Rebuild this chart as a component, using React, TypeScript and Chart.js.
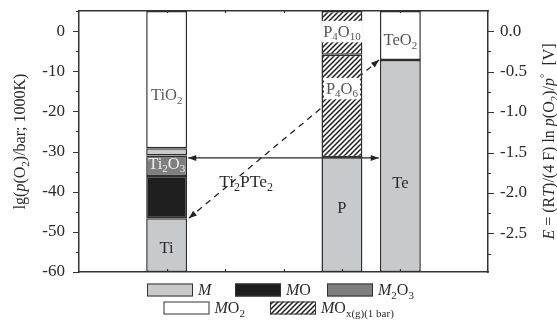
import React, { useEffect, useRef } from 'react';
import { Chart, registerables } from 'chart.js';
Chart.register(...registerables);

const FONT = '"Liberation Serif", "Times New Roman", serif';

// ---- data ----
const elements = ['Ti', 'P', 'Te'];
const elementX = [1, 4, 5];
const phaseM = [[-60, -46.6], [-60, -31.4], [-60, -7.2]];
const phaseMO = [[-46.6, -36.1], null, null];
const phaseM2O3 = [[-36.1, -31.0], null, null];
const phaseInter = [[-31.0, -29.2], null, null];
const phaseMO2 = [[-29.2, 5], null, [-7.2, 5]];
const phaseGasLow = [null, [-31.4, -5.9], null];
const phaseGasHigh = [null, [-5.9, 5], null];

const yMin = -60;
const yMax = 5;
const leftTicks = [-60, -50, -40, -30, -20, -10, 0];
const leftMinor = [5, -5, -15, -25, -35, -45, -55];
const rightTicks = [-2.5, -2.0, -1.5, -1.0, -0.5, 0];
const rightMinor = [-0.25, -0.75, -1.25, -1.75, -2.25, -2.75];
const xTicks = [1, 2, 3, 4, 5];
const voltPerLg = (8.314 * 1000) / (4 * 96485) * Math.LN10;

const segLabels = ['TiO_{2}', 'Ti_{2}O_{3}', 'Ti', 'P_{4}O_{10}', 'P_{4}O_{6}', 'P', 'TeO_{2}', 'Te'];
const segLabelX = [1, 1, 1, 4, 4, 4, 5, 5];
const segLabelY = [-15.9, -32.9, -54, 0, -14.2, -44, -2.2, -37.6];

const compoundLabel = 'Ti_{2}PTe_{2}';
const compoundX = 2.36;
const compoundY = -37.5;

const solidArrowX = [1.37, 4.63];
const solidArrowY = [-31.6, -31.6];
const dashedArrowX = [1.38, 4.635];
const dashedArrowY = [-46.6, -7.2];

const legendLabels = ['*M*', '*M*O', '*M*_{2}O_{3}', '*M*O_{2}', '*M*O_{x(g)(1 bar)}'];

// ---- styles ----
const C_M = '#c8c9cb';
const C_MO = '#1e1e1e';
const C_M2O3 = '#7f7f7f';
const C_MO2 = '#ffffff';
const EDGE = '#2e2e2e';
const segLabelColors = ['#5a5a5a', '#eeeeee', '#2a2a2a', '#555555', '#555555', '#2a2a2a', '#555555', '#2a2a2a'];
const TICK_SIZE = 17;

type Run = { t: string; it: boolean; sub: boolean; sup: boolean };
function parseRich(s: string): Run[] {
  const runs: Run[] = [];
  let it = false;
  let i = 0;
  let buf = '';
  const push = (t: string, sub: boolean, sup: boolean) => {
    if (t) runs.push({ t, it, sub, sup });
  };
  while (i < s.length) {
    const c = s[i];
    if (c === '*') {
      push(buf, false, false);
      buf = '';
      it = !it;
      i++;
    } else if ((c === '_' || c === '^') && s[i + 1] === '{') {
      push(buf, false, false);
      buf = '';
      const end = s.indexOf('}', i + 2);
      push(s.slice(i + 2, end), c === '_', c === '^');
      i = end + 1;
    } else {
      buf += c;
      i++;
    }
  }
  push(buf, false, false);
  return runs;
}
function runFont(r: Run, size: number) {
  const s = r.sub || r.sup ? Math.round(size * 0.66) : size;
  return `${r.it ? 'italic ' : ''}${s}px ${FONT}`;
}
function measureRich(ctx: CanvasRenderingContext2D, s: string, size: number) {
  let w = 0;
  for (const r of parseRich(s)) {
    ctx.font = runFont(r, size);
    w += ctx.measureText(r.t).width;
  }
  return w;
}
function drawRich(ctx: CanvasRenderingContext2D, s: string, x: number, yMid: number, size: number, align: string, color: string) {
  const runs = parseRich(s);
  const w = measureRich(ctx, s, size);
  let cx = align === 'center' ? x - w / 2 : align === 'right' ? x - w : x;
  const base = yMid + size * 0.33;
  ctx.save();
  ctx.textBaseline = 'alphabetic';
  ctx.textAlign = 'left';
  ctx.fillStyle = color;
  for (const r of runs) {
    ctx.font = runFont(r, size);
    const dy = r.sub ? size * 0.22 : r.sup ? -size * 0.42 : 0;
    ctx.fillText(r.t, cx, base + dy);
    cx += ctx.measureText(r.t).width;
  }
  ctx.restore();
  return w;
}

function makeHatch(): CanvasPattern | string {
  const s = 5;
  const c = document.createElement('canvas');
  c.width = s;
  c.height = s;
  const g = c.getContext('2d');
  if (!g) return '#888';
  g.fillStyle = '#fff';
  g.fillRect(0, 0, s, s);
  g.strokeStyle = '#1e1e1e';
  g.lineWidth = 1.5;
  g.beginPath();
  g.moveTo(-1, s + 1);
  g.lineTo(s + 1, -1);
  g.moveTo(-1, 1);
  g.lineTo(1, -1);
  g.moveTo(s - 1, s + 1);
  g.lineTo(s + 1, s - 1);
  g.stroke();
  return g.createPattern(c, 'repeat') || '#888';
}

function arrowHead(ctx: CanvasRenderingContext2D, x: number, y: number, ang: number) {
  const L = 8;
  const W = 3;
  ctx.beginPath();
  ctx.moveTo(x, y);
  ctx.lineTo(x - L * Math.cos(ang) + W * Math.sin(ang), y - L * Math.sin(ang) - W * Math.cos(ang));
  ctx.lineTo(x - L * Math.cos(ang) - W * Math.sin(ang), y - L * Math.sin(ang) + W * Math.cos(ang));
  ctx.closePath();
  ctx.fill();
}

function fitV(width: number) {
  return (s: any) => {
    s.width = width;
    s.paddingTop = 0;
    s.paddingBottom = 0;
  };
}
function fitH(height: number) {
  return (s: any) => {
    s.height = height;
    s.paddingLeft = 0;
    s.paddingRight = 0;
  };
}

export default function App() {
  const ref = useRef<HTMLCanvasElement>(null);
  useEffect(() => {
    const canvas = ref.current;
    if (!canvas) return;
    const hatch = makeHatch();
    const mk = (label: string, arr: any[], color: any) => ({
      label,
      data: elementX
        .map((x, i) => ({ x, y: arr[i] }))
        .filter((d) => d.y),
      backgroundColor: color,
      borderColor: EDGE,
      borderWidth: 1.5,
      borderSkipped: false,
      grouped: false,
      barPercentage: 0.7,
      categoryPercentage: 1,
      xAxisID: 'x',
      yAxisID: 'y',
    });

    const overlay = {
      id: 'overlay',
      beforeDatasetsDraw(chart: any) {
        const ctx = chart.ctx as CanvasRenderingContext2D;
        const xs = chart.scales.x;
        const ys = chart.scales.y;
        ctx.save();
        ctx.strokeStyle = '#222';
        ctx.fillStyle = '#222';
        ctx.lineWidth = 1.3;
        const sx0 = xs.getPixelForValue(solidArrowX[0]);
        const sy0 = ys.getPixelForValue(solidArrowY[0]);
        const sx1 = xs.getPixelForValue(solidArrowX[1]);
        const sy1 = ys.getPixelForValue(solidArrowY[1]);
        ctx.beginPath();
        ctx.moveTo(sx0, sy0);
        ctx.lineTo(sx1, sy1);
        ctx.stroke();
        const a1 = Math.atan2(sy1 - sy0, sx1 - sx0);
        arrowHead(ctx, sx1, sy1, a1);
        arrowHead(ctx, sx0, sy0, a1 + Math.PI);
        const dx0 = xs.getPixelForValue(dashedArrowX[0]);
        const dy0 = ys.getPixelForValue(dashedArrowY[0]);
        const dx1 = xs.getPixelForValue(dashedArrowX[1]);
        const dy1 = ys.getPixelForValue(dashedArrowY[1]);
        ctx.setLineDash([6, 5]);
        ctx.beginPath();
        ctx.moveTo(dx0, dy0);
        ctx.lineTo(dx1, dy1);
        ctx.stroke();
        ctx.setLineDash([]);
        const a2 = Math.atan2(dy1 - dy0, dx1 - dx0);
        arrowHead(ctx, dx1, dy1, a2);
        arrowHead(ctx, dx0, dy0, a2 + Math.PI);
        ctx.restore();
      },
      afterDatasetsDraw(chart: any) {
        const ctx = chart.ctx as CanvasRenderingContext2D;
        const xs = chart.scales.x;
        const ys = chart.scales.y;
        const size = 16.5;
        segLabels.forEach((t, i) => {
          const px = xs.getPixelForValue(segLabelX[i]);
          const py = ys.getPixelForValue(segLabelY[i]);
          if (t.startsWith('P_')) {
            const w = measureRich(ctx, t, size);
            ctx.save();
            ctx.fillStyle = '#fff';
            ctx.fillRect(px - w / 2 - 2, py - size * 0.62, w + 4, size * 1.3);
            ctx.restore();
          }
          drawRich(ctx, t, px, py, size, 'center', segLabelColors[i]);
        });
        drawRich(ctx, compoundLabel, xs.getPixelForValue(compoundX), ys.getPixelForValue(compoundY), 17.5, 'center', '#2a2a2a');
      },
      afterDraw(chart: any) {
        const ctx = chart.ctx as CanvasRenderingContext2D;
        const ca = chart.chartArea;
        const xs = chart.scales.x;
        const ys = chart.scales.y;
        const yr = chart.scales.yR;
        ctx.save();
        ctx.strokeStyle = '#333';
        ctx.lineWidth = 1.2;
        ctx.beginPath();
        leftTicks.forEach((v) => {
          const p = Math.round(ys.getPixelForValue(v)) + 0.5;
          ctx.moveTo(ca.left - 6, p);
          ctx.lineTo(ca.left, p);
        });
        leftMinor.forEach((v) => {
          const p = Math.round(ys.getPixelForValue(v)) + 0.5;
          ctx.moveTo(ca.left - 3, p);
          ctx.lineTo(ca.left, p);
        });
        rightTicks.forEach((v) => {
          const p = Math.round(yr.getPixelForValue(v)) + 0.5;
          ctx.moveTo(ca.right, p);
          ctx.lineTo(ca.right + 6, p);
        });
        rightMinor.forEach((v) => {
          const p = Math.round(yr.getPixelForValue(v)) + 0.5;
          ctx.moveTo(ca.right, p);
          ctx.lineTo(ca.right + 3, p);
        });
        xTicks.forEach((v) => {
          const p = Math.round(xs.getPixelForValue(v)) + 0.5;
          ctx.moveTo(p, ca.bottom);
          ctx.lineTo(p, ca.bottom - 3);
          ctx.moveTo(p, ca.top);
          ctx.lineTo(p, ca.top + 2);
        });
        ctx.stroke();
        ctx.restore();

        const midY = (ca.top + ca.bottom) / 2;
        ctx.save();
        ctx.translate(20, midY);
        ctx.rotate(-Math.PI / 2);
        drawRich(ctx, 'lg(*p*(O_{2})/bar; 1000K)', 0, 0, 16, 'center', '#2a2a2a');
        ctx.restore();
        ctx.save();
        ctx.translate(549, midY);
        ctx.rotate(-Math.PI / 2);
        drawRich(ctx, '*E* = (R*T*)/(4 F) ln *p*(O_{2})/*p*^{°}  [V]', 0, 0, 16, 'center', '#2a2a2a');
        ctx.restore();

        const boxes = [
          { x: 147, y: 283.5, fill: C_M },
          { x: 235, y: 283.5, fill: C_MO },
          { x: 327, y: 283.5, fill: C_M2O3 },
          { x: 163.5, y: 301.5, fill: C_MO2 },
          { x: 270, y: 301.5, fill: hatch },
        ];
        boxes.forEach((b, i) => {
          ctx.save();
          ctx.fillStyle = b.fill as any;
          ctx.fillRect(b.x, b.y, 46, 13);
          ctx.strokeStyle = '#333';
          ctx.lineWidth = 1;
          ctx.strokeRect(b.x + 0.5, b.y + 0.5, 45, 12);
          ctx.restore();
          drawRich(ctx, legendLabels[i], b.x + 51, b.y + 6.5, 16, 'left', '#2a2a2a');
        });
      },
    };

    const chart = new Chart(canvas, {
      type: 'bar',
      data: {
        datasets: [
          mk('M', phaseM, C_M),
          mk('MO', phaseMO, C_MO),
          mk('M2O3', phaseM2O3, C_M2O3),
          mk('inter', phaseInter, C_M),
          mk('MO2', phaseMO2, C_MO2),
          mk('gasLow', phaseGasLow, hatch),
          mk('gasHigh', phaseGasHigh, hatch),
        ] as any,
      },
      options: {
        animation: false,
        responsive: false,
        layout: { padding: 0 },
        plugins: { legend: { display: false }, tooltip: { enabled: false } },
        scales: {
          x: {
            type: 'linear',
            position: 'bottom',
            min: 0,
            max: 6,
            grid: { display: false, drawTicks: false },
            ticks: { display: false },
            border: { display: true, color: '#333', width: 1.5 },
            afterFit: fitH(56),
          },
          xTop: {
            type: 'linear',
            position: 'top',
            min: 0,
            max: 6,
            grid: { display: false, drawTicks: false },
            ticks: { display: false },
            border: { display: true, color: '#333', width: 1.5 },
            afterFit: fitH(11),
          },
          y: {
            type: 'linear',
            position: 'left',
            min: yMin,
            max: yMax,
            afterBuildTicks: (s: any) => {
              s.ticks = leftTicks.map((v) => ({ value: v }));
            },
            ticks: {
              font: { family: FONT, size: TICK_SIZE },
              color: '#2a2a2a',
              padding: 14,
              callback: (v: any) => String(v),
            },
            grid: { display: false, drawTicks: false },
            border: { display: true, color: '#333', width: 1.5 },
            afterFit: fitV(79),
          },
          yR: {
            type: 'linear',
            position: 'right',
            min: yMin * voltPerLg,
            max: yMax * voltPerLg,
            afterBuildTicks: (s: any) => {
              s.ticks = rightTicks.map((v) => ({ value: v }));
            },
            ticks: {
              font: { family: FONT, size: TICK_SIZE },
              color: '#2a2a2a',
              padding: 12,
              callback: (v: any) => Number(v).toFixed(1),
            },
            grid: { display: false, drawTicks: false },
            border: { display: true, color: '#333', width: 1.5 },
            afterFit: fitV(69),
          },
        },
      } as any,
      plugins: [overlay],
    });
    return () => chart.destroy();
  }, []);

  return (
    <div style={{ position: 'fixed', left: 0, top: 0, width: 557, height: 328, background: '#fff' }}>
      <canvas ref={ref} width={557} height={328} style={{ display: 'block' }} />
    </div>
  );
}
